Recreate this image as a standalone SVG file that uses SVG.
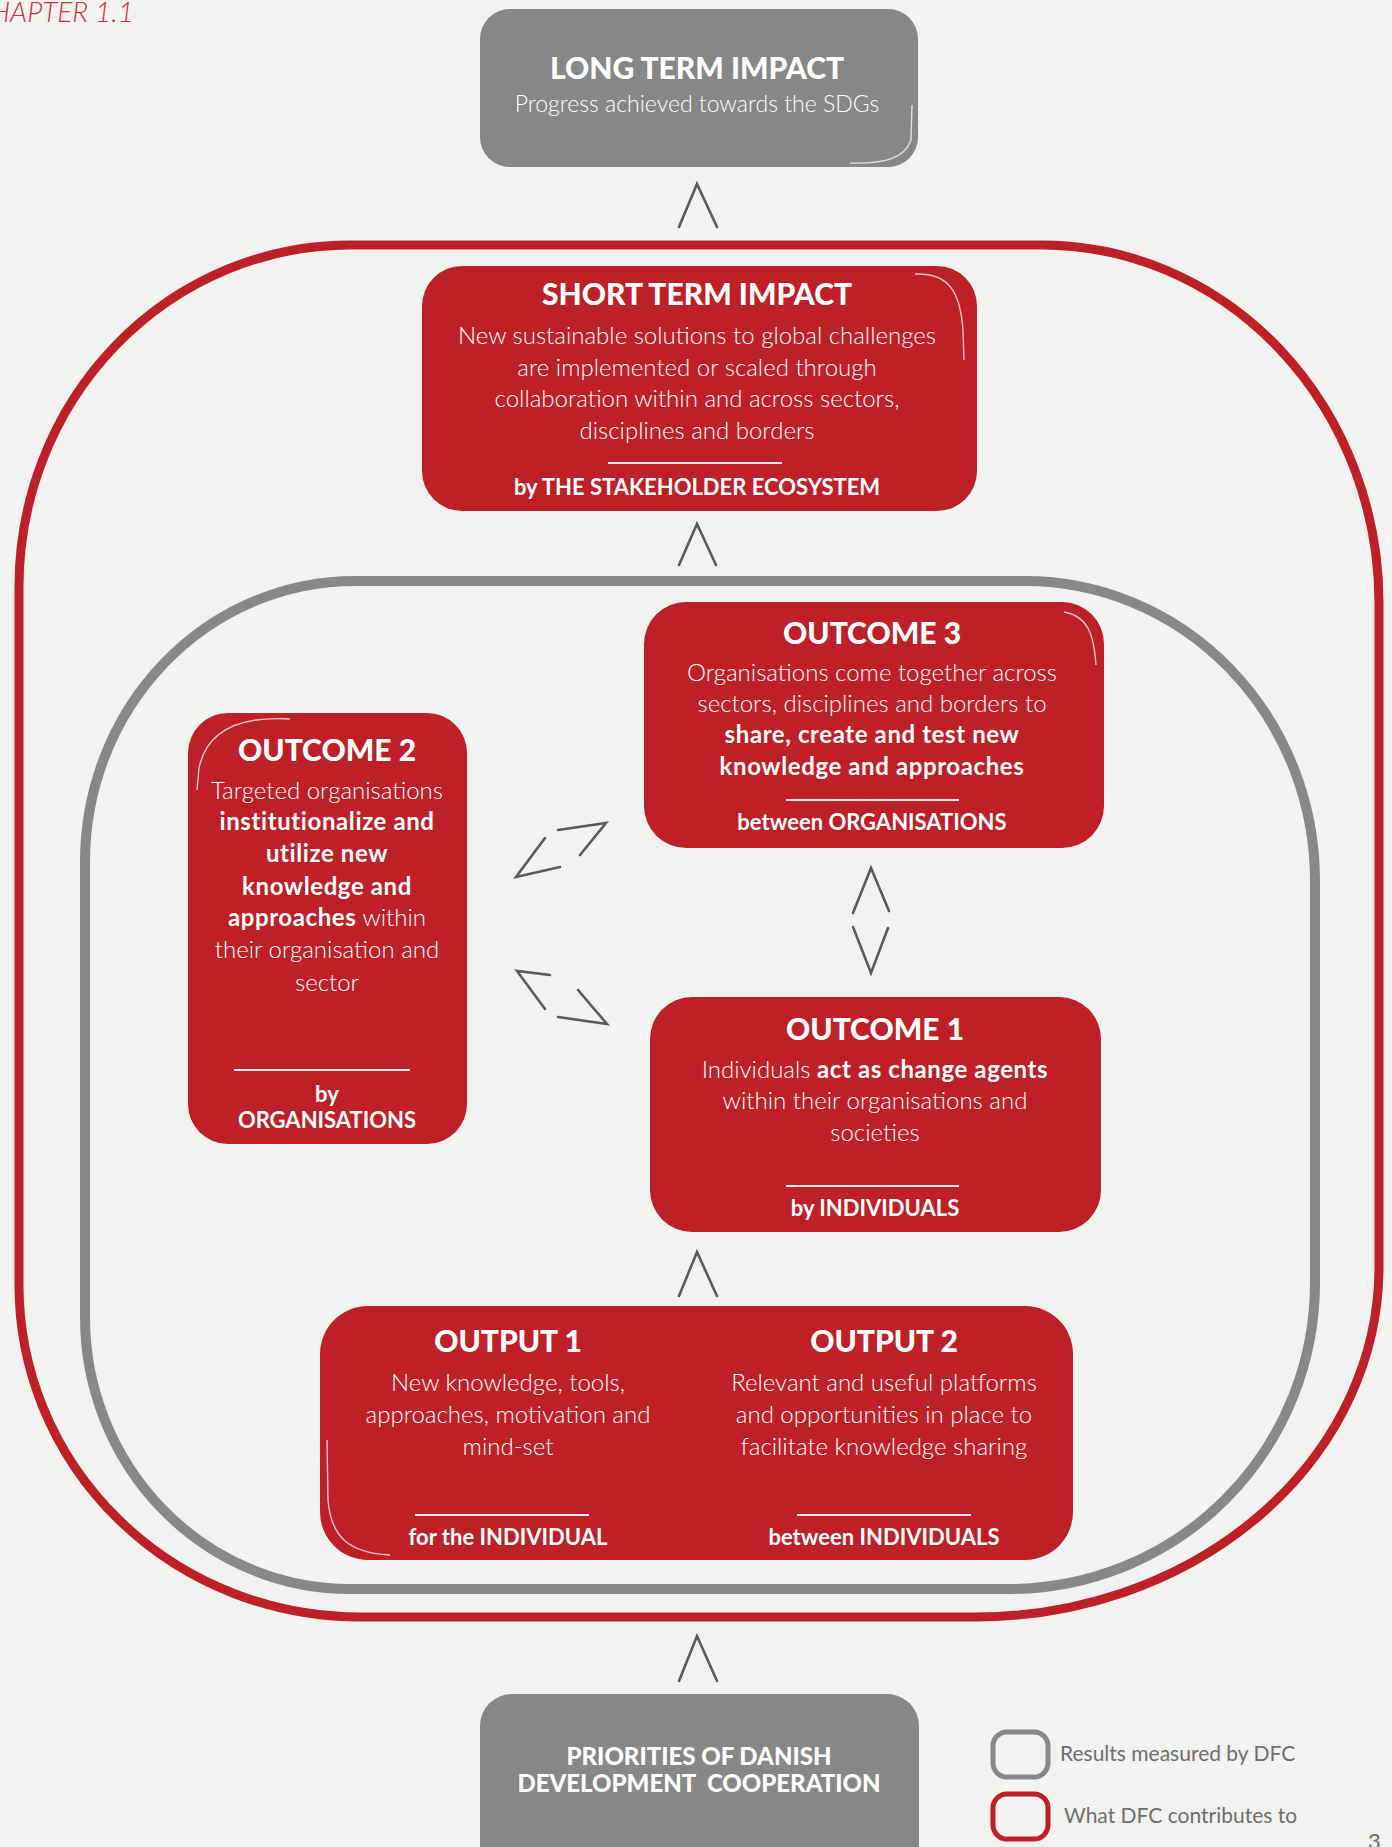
<svg xmlns="http://www.w3.org/2000/svg" width="1392" height="1847" viewBox="0 0 1392 1847">
<style>
.bg{fill:#f2f2f1}
.red{fill:#bd2127}
.grey{fill:#878787}
.loopR{fill:none;stroke:#bd2127;stroke-width:9}
.loopG{fill:none;stroke:#888888;stroke-width:10}
.arrow{fill:none;stroke:#5a5a5a;stroke-width:2.6;stroke-linejoin:miter;stroke-linecap:round}
.hl{fill:none;stroke:#ffffff;stroke-width:1.4;opacity:.75}
.div{stroke:#ffffff;stroke-width:2;opacity:.9}
text{font-family:Lato,"Open Sans","Liberation Sans",sans-serif;fill:#ffffff;text-anchor:middle}
.t{font-size:30px;font-weight:900}
.b{font-size:24px;font-weight:300}
.f{font-size:22px;font-weight:700}
.s{font-weight:700;letter-spacing:0.6px}
.bb{font-size:24px;font-weight:700;letter-spacing:0.6px}
.leg{font-size:21px;font-weight:400;fill:#6e6e6e;text-anchor:start}
</style>
<rect class="bg" x="0" y="0" width="1392" height="1847"/>
<text x="134" y="22" style="font-size:28px;font-style:italic;font-weight:300;fill:#c9323a;text-anchor:end">CHAPTER 1.1</text>

<g id="boundaries">
<path id="loop-contributes" class="loopR" d="M 350,245 L 1042,245 A 337 358 0 0 1 1379,603 L 1379,1267 A 404 350 0 0 1 975,1617 L 360,1617 A 341 332 0 0 1 19,1285 L 19,587 A 331 342 0 0 1 350,245 Z"/>
<path id="loop-measured" class="loopG" d="M 355,581 L 1025,581 A 290 300 0 0 1 1315,881 L 1315,1283 A 306 306 0 0 1 1009,1589 L 350,1589 A 265 272 0 0 1 85,1317 L 85,862 A 270 281 0 0 1 355,581 Z"/>
</g>

<g id="long-term-impact">
<rect class="grey" x="480" y="9" width="438" height="158" rx="30"/>
<path class="hl" d="M 850,163 C 885,164 905,158 911,140 L 912,105"/>
<text class="t" x="697" y="79">LONG TERM IMPACT</text>
<text class="b" x="697" y="112" style="font-size:23px">Progress achieved towards the SDGs</text>
</g>

<g id="short-term-impact">
<rect class="red" x="422" y="266" width="555" height="245" rx="40"/>
<path class="hl" d="M 915,274 C 948,273 960,290 963,330 L 964,360"/>
<text class="t" x="697" y="305">SHORT TERM IMPACT</text>
<text class="b" x="697" y="344">New sustainable solutions to global challenges</text>
<text class="b" x="697" y="376">are implemented or scaled through</text>
<text class="b" x="697" y="407">collaboration within and across sectors,</text>
<text class="b" x="697" y="439">disciplines and borders</text>
<line class="div" x1="608" y1="463" x2="782" y2="463"/>
<text class="f" x="697" y="495">by THE STAKEHOLDER ECOSYSTEM</text>
</g>

<g id="outcome-3">
<rect class="red" x="644" y="602" width="460" height="246" rx="42"/>
<path class="hl" d="M 1064,612 C 1088,616 1094,635 1096,665"/>
<text class="t" x="872" y="644">OUTCOME 3</text>
<text class="b" x="872" y="681">Organisations come together across</text>
<text class="b" x="872" y="712">sectors, disciplines and borders to</text>
<text class="bb" x="872" y="743">share, create and test new</text>
<text class="bb" x="872" y="775">knowledge and approaches</text>
<line class="div" x1="786" y1="800" x2="959" y2="800"/>
<text class="f" x="872" y="830">between ORGANISATIONS</text>
</g>

<g id="outcome-2">
<rect class="red" x="188" y="713" width="279" height="431" rx="40"/>
<path class="hl" d="M 290,719 C 240,716 207,730 199,768 L 197,790"/>
<text class="t" x="327" y="761">OUTCOME 2</text>
<text class="b" x="327" y="799">Targeted organisations</text>
<text class="bb" x="327" y="830">institutionalize and</text>
<text class="bb" x="327" y="862">utilize new</text>
<text class="bb" x="327" y="895">knowledge and</text>
<text class="b" x="327" y="926"><tspan class="s">approaches</tspan> within</text>
<text class="b" x="327" y="958">their organisation and</text>
<text class="b" x="327" y="991">sector</text>
<line class="div" x1="234" y1="1070" x2="410" y2="1070"/>
<text class="f" x="327" y="1102">by</text>
<text class="f" x="327" y="1128">ORGANISATIONS</text>
</g>

<g id="outcome-1">
<rect class="red" x="650" y="997" width="451" height="235" rx="42"/>
<text class="t" x="875" y="1040">OUTCOME 1</text>
<text class="b" x="875" y="1078">Individuals <tspan class="s">act as change agents</tspan></text>
<text class="b" x="875" y="1109">within their organisations and</text>
<text class="b" x="875" y="1141">societies</text>
<line class="div" x1="786" y1="1186" x2="959" y2="1186"/>
<text class="f" x="875" y="1216">by INDIVIDUALS</text>
</g>

<g id="outputs">
<rect class="red" x="320" y="1306" width="753" height="254" rx="48"/>
<path class="hl" d="M 327,1440 L 328,1500 C 331,1538 350,1553 390,1555"/>
<text class="t" x="508" y="1352">OUTPUT 1</text>
<text class="b" x="508" y="1391">New knowledge, tools,</text>
<text class="b" x="508" y="1423">approaches, motivation and</text>
<text class="b" x="508" y="1455">mind-set</text>
<line class="div" x1="415" y1="1515" x2="589" y2="1515"/>
<text class="f" x="508" y="1545">for the INDIVIDUAL</text>
<text class="t" x="884" y="1352">OUTPUT 2</text>
<text class="b" x="884" y="1391">Relevant and useful platforms</text>
<text class="b" x="884" y="1423">and opportunities in place to</text>
<text class="b" x="884" y="1455">facilitate knowledge sharing</text>
<line class="div" x1="797" y1="1515" x2="971" y2="1515"/>
<text class="f" x="884" y="1545">between INDIVIDUALS</text>
</g>

<g id="priorities">
<rect class="grey" x="480" y="1694" width="439" height="190" rx="32"/>
<text class="f" x="699" y="1765" style="font-size:24px;font-weight:900">PRIORITIES OF DANISH</text>
<text class="f" x="699" y="1792" xml:space="preserve" style="font-size:24px;font-weight:900">DEVELOPMENT  COOPERATION</text>
</g>

<g id="legend">
<rect x="993" y="1732" width="55" height="45" rx="14" fill="none" stroke="#888888" stroke-width="5"/>
<text class="leg" x="1060" y="1761">Results measured by DFC</text>
<rect x="993" y="1794" width="55" height="45" rx="14" fill="none" stroke="#bd2127" stroke-width="5"/>
<text class="leg" x="1064" y="1823">What DFC contributes to</text>
<text class="leg" x="1368" y="1849" style="font-size:22px">3</text>
</g>

<g id="connectors">
<polyline class="arrow" points="679,227 697,184 717,227"/>
<polyline class="arrow" points="679,565 697,524 716,565"/>
<polyline class="arrow" points="679,1296 697,1252 717,1296"/>
<polyline class="arrow" points="679,1681 697,1636 717,1681"/>
<polyline class="arrow" points="853,913 871,868 889,911"/>
<polyline class="arrow" points="853,927 871,973 888,928"/>
<polyline class="arrow" points="558,830 606,823 580,855"/>
<polyline class="arrow" points="545,838 516,877 560,867"/>
<polyline class="arrow" points="550,975 517,971 545,1009"/>
<polyline class="arrow" points="558,1017 607,1024 578,990"/>
</g>
</svg>
